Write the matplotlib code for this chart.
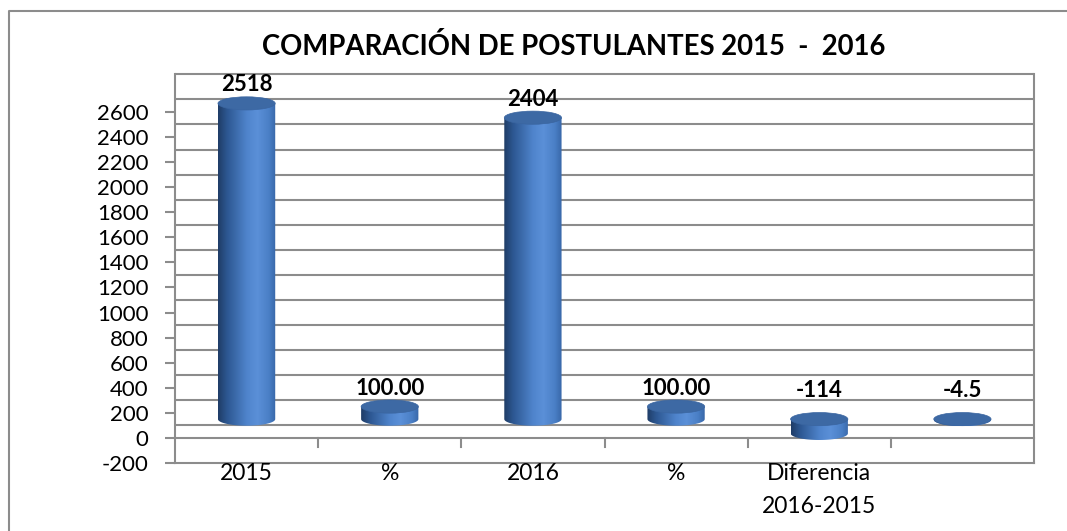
import numpy as np
import matplotlib
matplotlib.use("Agg")
import matplotlib.pyplot as plt
from matplotlib.patches import Ellipse, PathPatch
from matplotlib.path import Path
from matplotlib.colors import LinearSegmentedColormap
from matplotlib.lines import Line2D

# ---------------- data ----------------
categories = ["2015", "%", "2016", "%", "Diferencia\n2016-2015", ""]
values = [2518, 100.00, 2404, 100.00, -114, -4.5]
value_labels = ["2518", "100.00", "2404", "100.00", "-114", "-4.5"]
yticks = list(range(-200, 2601, 200))
title = "COMPARACIÓN DE POSTULANTES 2015  -  2016"

# ---------------- style ----------------
FONT = ["Lato", "DejaVu Sans"]
plt.rcParams["font.family"] = FONT
GRID = "#8c8c8c"
W, H = 1067, 531
fig = plt.figure(figsize=(W / 100, H / 100), dpi=100)
fig.patch.set_facecolor("white")

def fx(px):
    return px / W

def fy(py):
    return 1 - py / H

# outer chart border (cut at right/bottom)
fig.add_artist(Line2D([fx(9), fx(9), fx(W + 5)], [fy(H + 5), fy(11), fy(11)],
                      color=GRID, lw=1.5, transform=fig.transFigure))

left_px, right_px, top_px, bot_px = 175, 1034, 74.3, 463
ax = fig.add_axes([fx(left_px), fy(bot_px), fx(right_px - left_px), (bot_px - top_px) / H])
ax.set_facecolor("none")
for s in ax.spines.values():
    s.set_visible(False)

n = len(categories)
x = np.arange(n)
xmin, xmax = -0.5, n - 0.5
ymin, ymax = -200, 2900
wall_off = 100     # depth shift of the back wall
cyl_off = 150      # depth shift of the cylinders
bar_w = 0.40
ell_h = 105

# back wall gridlines
for v in range(0, 2801, 200):
    ax.plot([xmin, xmax], [v + wall_off] * 2, color=GRID, lw=1.5, zorder=1,
            clip_on=False, solid_capstyle="butt")
# front frame: floor front edge, bottom edge, side edges
ax.plot([xmin, xmax], [0, 0], color=GRID, lw=1.5, zorder=1, clip_on=False)
ax.plot([xmin, xmax], [ymin, ymin], color=GRID, lw=1.5, zorder=1, clip_on=False)
ax.plot([xmin, xmin], [ymin, ymax], color=GRID, lw=1.5, zorder=1, clip_on=False)
ax.plot([xmax, xmax], [ymin, ymax], color=GRID, lw=1.5, zorder=1, clip_on=False)
# category tick marks on the floor front edge
for b in np.arange(xmin + 1, xmax, 1.0):
    ax.plot([b, b], [0, -72], color=GRID, lw=1.5, zorder=1, clip_on=False)

# cylinders
cmap = LinearSegmentedColormap.from_list(
    "cyl", [(0.0, "#1f3c66"), (0.15, "#2c5690"), (0.5, "#4f84cc"),
            (0.68, "#5b90d8"), (0.88, "#4a7fc6"), (1.0, "#3867a8")])
grad = np.linspace(0, 1, 256).reshape(1, -1)
for xi, v in zip(x, values):
    base = cyl_off
    top = v + cyl_off
    y0, y1 = min(base, top), max(base, top)
    xl, xr = xi - bar_w / 2, xi + bar_w / 2
    t = np.linspace(np.pi, 2 * np.pi, 60)
    arc = np.column_stack([xi + bar_w / 2 * np.cos(t), y0 + ell_h / 2 * np.sin(t)])
    verts = np.vstack([[[xl, y1]], arc, [[xr, y1]], [[xl, y1]]])
    codes = [Path.MOVETO] + [Path.LINETO] * (len(verts) - 2) + [Path.CLOSEPOLY]
    clip = PathPatch(Path(verts, codes), facecolor="none", edgecolor="none",
                     transform=ax.transData)
    ax.add_patch(clip)
    im = ax.imshow(grad, extent=(xl, xr, y0 - ell_h / 2, y1), aspect="auto",
                   cmap=cmap, zorder=3, interpolation="bilinear")
    im.set_clip_path(clip)
    ax.add_patch(Ellipse((xi, y1), bar_w, ell_h, facecolor="#3d69a4",
                         edgecolor="#3a65a0", lw=0.5, zorder=4))

# value labels
for xi, v, lab in zip(x, values, value_labels):
    if v >= 0:
        yl = v + cyl_off + 95
    else:
        yl = cyl_off + 175
    ax.text(xi, yl, lab, ha="center", va="baseline", fontsize=16,
            fontweight="bold", color="black", zorder=5, clip_on=False)

# category labels
for xi, cat in zip(x, categories):
    lines = cat.split("\n")
    for k, line in enumerate(lines):
        ax.text(xi, -335 - k * 262, line, ha="center", va="baseline",
                fontsize=16.5, color="black", clip_on=False)

ax.set_xticks([])
ax.set_yticks(yticks)
ax.set_yticklabels([str(t) for t in yticks])
ax.tick_params(axis="y", length=7.2, width=1.5, color=GRID, labelsize=16,
               pad=12, labelcolor="black")
ax.set_xlim(xmin, xmax)
ax.set_ylim(ymin, ymax)

fig.text(fx(573.5), fy(55), title, ha="center", va="baseline",
         fontsize=19.8, fontweight="bold", color="black")

fig.savefig("out.png", dpi=100, facecolor="white")
